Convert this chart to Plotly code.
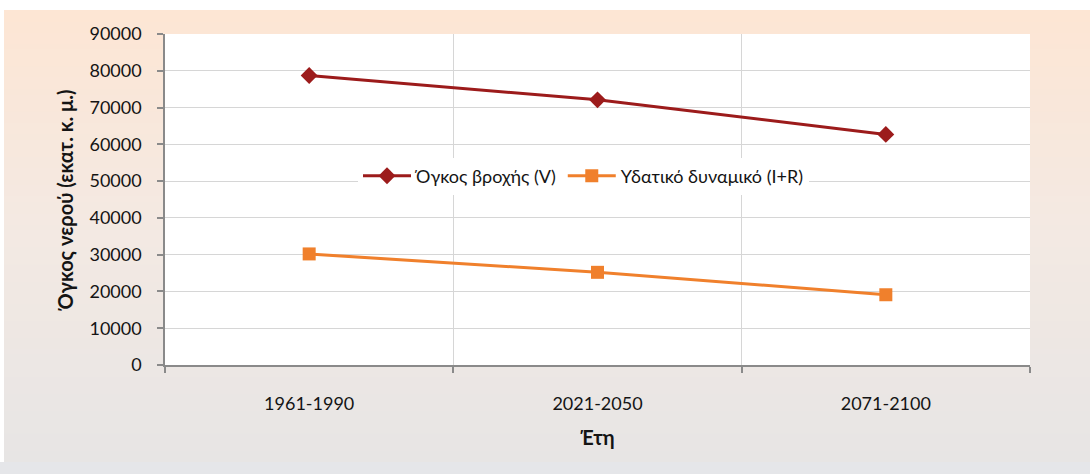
import plotly.graph_objects as go

# Periods and water volumes (million cubic metres)
periods = ["1961-1990", "2021-2050", "2071-2100"]
rain_volume = [78700, 72100, 62700]          # Όγκος βροχής (V)
water_potential = [30200, 25200, 19100]      # Υδατικό δυναμικό (I+R)
y_ticks = [0, 10000, 20000, 30000, 40000, 50000, 60000, 70000, 80000, 90000]

W, H = 1090, 474
ML, MR, MT, MB = 165, 60, 34, 109
PW, PH = W - ML - MR, H - MT - MB

FONT = "Lato"
TXT = "#141414"
AXIS = "#8a8a8a"
GRID = "#d6d6d6"


def px_to_paper(x, y):
    return (x - ML) / PW, (H - MB - y) / PH


def lerp(c1, c2, t):
    return tuple(round(a + (b - a) * t) for a, b in zip(c1, c2))


# vertical background gradient of the framed panel
stops = [(0.0, (253, 230, 212)), (0.5, (243, 233, 227)), (1.0, (231, 229, 228))]
top_px, bot_px, left_px = 10, 462, 4
n = 80
shapes = []
for i in range(n):
    t = i / (n - 1)
    if t <= 0.5:
        c = lerp(stops[0][1], stops[1][1], t / 0.5)
    else:
        c = lerp(stops[1][1], stops[2][1], (t - 0.5) / 0.5)
    y0p = top_px + (bot_px - top_px) * i / n
    y1p = top_px + (bot_px - top_px) * (i + 1) / n + 0.8
    x0, y0 = px_to_paper(left_px, y0p)
    x1, y1 = px_to_paper(W, min(y1p, bot_px))
    shapes.append(dict(type="rect", xref="paper", yref="paper", x0=x0, x1=x1,
                       y0=y0, y1=y1, line=dict(width=0),
                       fillcolor="rgb(%d,%d,%d)" % c, layer="below"))
# bottom strip
x0, y0 = px_to_paper(0, bot_px)
x1, y1 = px_to_paper(W, H)
shapes.append(dict(type="rect", xref="paper", yref="paper", x0=x0, x1=x1,
                   y0=y1, y1=y0, line=dict(width=0),
                   fillcolor="rgb(229,230,233)", layer="below"))
# white plotting area
shapes.append(dict(type="rect", xref="paper", yref="paper", x0=0, x1=1,
                   y0=0, y1=1, line=dict(width=0), fillcolor="white",
                   layer="below"))

fig = go.Figure()
fig.add_trace(go.Scatter(
    x=periods, y=rain_volume, name="Όγκος βροχής (V)", mode="lines+markers",
    line=dict(color="#9c1b1b", width=3),
    marker=dict(symbol="diamond", size=13, color="#9c1b1b"),
))
fig.add_trace(go.Scatter(
    x=periods, y=water_potential, name="Υδατικό δυναμικό (I+R)",
    mode="lines+markers",
    line=dict(color="#f0802c", width=3),
    marker=dict(symbol="square", size=13, color="#f0802c"),
))

lx, ly = px_to_paper(358, 176)
fig.update_layout(
    width=W, height=H,
    margin=dict(l=ML, r=MR, t=MT, b=MB),
    paper_bgcolor="white",
    plot_bgcolor="rgba(0,0,0,0)",
    shapes=shapes,
    font=dict(family=FONT, color=TXT),
    showlegend=True,
    legend=dict(orientation="h", x=lx, y=ly, xanchor="left", yanchor="middle",
                bgcolor="white", font=dict(size=18, color=TXT),
                itemwidth=48, traceorder="normal"),
    xaxis=dict(
        type="category", tickson="boundaries", showgrid=True,
        gridcolor=GRID, gridwidth=1,
        showline=True, linecolor=AXIS, linewidth=1.5,
        ticks="outside", ticklen=6, tickcolor=AXIS, tickwidth=1.5,
        tickfont=dict(size=18, color=TXT), ticklabelstandoff=22,
        title=dict(text="<b>Έτη</b>", font=dict(size=20, color=TXT),
                   standoff=18),
        range=[-0.5, 2.5], zeroline=False,
    ),
    yaxis=dict(
        range=[0, 90000], tickvals=y_ticks, tickformat="d", showgrid=True,
        gridcolor=GRID, gridwidth=1,
        showline=True, linecolor=AXIS, linewidth=1.5,
        ticks="outside", ticklen=6, tickcolor=AXIS, tickwidth=1.5,
        tickfont=dict(size=18, color=TXT), ticklabelstandoff=12,
        title=dict(text="<b>Όγκος νερού (εκατ. κ. μ.)</b>",
                   font=dict(size=20, color=TXT), standoff=10),
        zeroline=False,
    ),
)

fig.write_html("out.html")
